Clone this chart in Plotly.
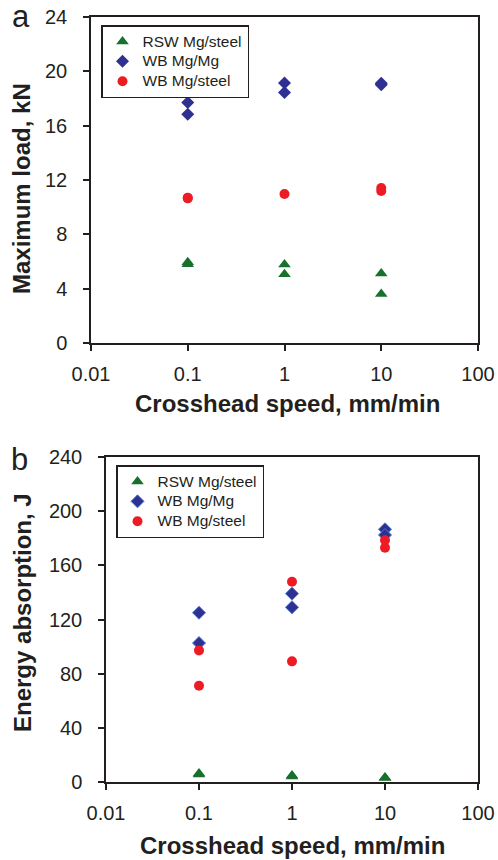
import plotly.graph_objects as go

# ---------------- data ----------------
speed_tick_vals = [0.01, 0.1, 1, 10, 100]
speed_tick_text = ["0.01", "0.1", "1", "10", "100"]

# Panel a: maximum load (kN)
rsw_load_speed = [0.1, 0.1, 1, 1, 10, 10]
rsw_load = [5.95, 5.8, 5.77, 5.06, 5.11, 3.61]
wbmg_load_speed = [0.1, 0.1, 1, 1, 10, 10]
wbmg_load = [17.7, 16.84, 19.15, 18.44, 19.12, 19.02]
wbst_load_speed = [0.1, 0.1, 1, 10, 10]
wbst_load = [10.65, 10.7, 10.97, 11.41, 11.19]
load_ticks = [0, 4, 8, 12, 16, 20, 24]

# Panel b: energy absorption (J)
rsw_energy_speed = [0.1, 0.1, 1, 1, 10, 10]
rsw_energy = [6.2, 5.6, 4.8, 4.0, 3.4, 2.9]
wbmg_energy_speed = [0.1, 0.1, 1, 1, 10, 10]
wbmg_energy = [125.0, 102.6, 139.1, 129.0, 186.6, 182.4]
wbst_energy_speed = [0.1, 0.1, 1, 1, 10, 10]
wbst_energy = [97.2, 71.1, 147.9, 89.1, 178.5, 173.0]
energy_ticks = [0, 40, 80, 120, 160, 200, 240]

series_names = ["RSW Mg/steel", "WB Mg/Mg", "WB Mg/steel"]

# ---------------- styling ----------------
W, H = 498, 860
FONT = "Liberation Sans, Arial, sans-serif"
INK = "#231f20"
GREEN = "#17702c"
BLUE = "#2e3192"
RED = "#ed1c24"

def px_x(p):
    return p / W

def px_y(p):
    return 1 - p / H

def legend_label(name):
    # larger visible text while the legend row height follows the smaller legend font
    return f'<span style="font-size:15.5px">{name}</span>'

fig = go.Figure()

def add_series(xs, ys, name, symbol, color, size, xa, ya, legend, line=None):
    fig.add_trace(go.Scatter(
        x=xs, y=ys, mode="markers", name=legend_label(name),
        marker=dict(symbol=symbol, color=color, size=size,
                    line=line or dict(width=0)),
        xaxis=xa, yaxis=ya, legend=legend,
    ))

add_series(rsw_load_speed, rsw_load, series_names[0], "triangle-up", GREEN, 11, "x", "y", "legend")
add_series(wbmg_load_speed, wbmg_load, series_names[1], "diamond", BLUE, 10, "x", "y", "legend")
add_series(wbst_load_speed, wbst_load, series_names[2], "circle", RED, 10, "x", "y", "legend")

add_series(rsw_energy_speed, rsw_energy, series_names[0], "triangle-up", GREEN, 11, "x2", "y2", "legend2")
add_series(wbmg_energy_speed, wbmg_energy, series_names[1], "diamond", BLUE, 10, "x2", "y2", "legend2",
           line=dict(width=1, color="#4a78c8"))
add_series(wbst_energy_speed, wbst_energy, series_names[2], "circle", RED, 10, "x2", "y2", "legend2")

axis_common = dict(
    showline=True, linecolor=INK, linewidth=1.5, mirror=True,
    ticks="outside", ticklen=6, tickwidth=1.5, tickcolor=INK,
    showgrid=False, zeroline=False, automargin=False,
    tickfont=dict(family=FONT, size=20, color=INK),
)

legend_common = dict(
    xanchor="left", yanchor="top",
    bordercolor=INK, borderwidth=1.5, bgcolor="white",
    font=dict(family=FONT, size=13, color=INK),
    tracegroupgap=0, itemwidth=30,
)

fig.update_layout(
    template="none",
    width=W, height=H,
    margin=dict(l=0, r=0, t=0, b=0, autoexpand=False),
    paper_bgcolor="white", plot_bgcolor="white",
    font=dict(family=FONT, color=INK),
    xaxis=dict(type="log", range=[-2, 2], domain=[px_x(91), px_x(478)],
               tickvals=speed_tick_vals, ticktext=speed_tick_text,
               anchor="y", ticklabelstandoff=6, **axis_common),
    yaxis=dict(range=[0, 24], domain=[px_y(343), px_y(17)],
               tickvals=load_ticks, anchor="x", ticklabelstandoff=12, **axis_common),
    xaxis2=dict(type="log", range=[-2, 2], domain=[px_x(106), px_x(478)],
                tickvals=speed_tick_vals, ticktext=speed_tick_text,
                anchor="y2", ticklabelstandoff=6, **axis_common),
    yaxis2=dict(range=[0, 240], domain=[px_y(782), px_y(457)],
                tickvals=energy_ticks, anchor="x2", ticklabelstandoff=12, **axis_common),
    legend=dict(x=px_x(101), y=px_y(25), **legend_common),
    legend2=dict(x=px_x(116), y=px_y(465), **legend_common),
)

def label(text, x, y, size, bold=False, angle=0):
    fig.add_annotation(
        text=f"<b>{text}</b>" if bold else text,
        x=px_x(x), y=px_y(y), xref="paper", yref="paper",
        xanchor="center", yanchor="middle", showarrow=False, textangle=angle,
        font=dict(family=FONT, size=size, color=INK),
    )

label("Crosshead speed, mm/min", 287, 403, 24, bold=True)
label("Crosshead speed, mm/min", 292, 845, 24, bold=True)
label("Maximum load, kN", 21, 189, 24, bold=True, angle=-90)
label("Energy absorption, J", 22, 613, 24, bold=True, angle=-90)
label("a", 21, 17, 31)
label("b", 19, 460, 31)

fig.write_html("out.html")
